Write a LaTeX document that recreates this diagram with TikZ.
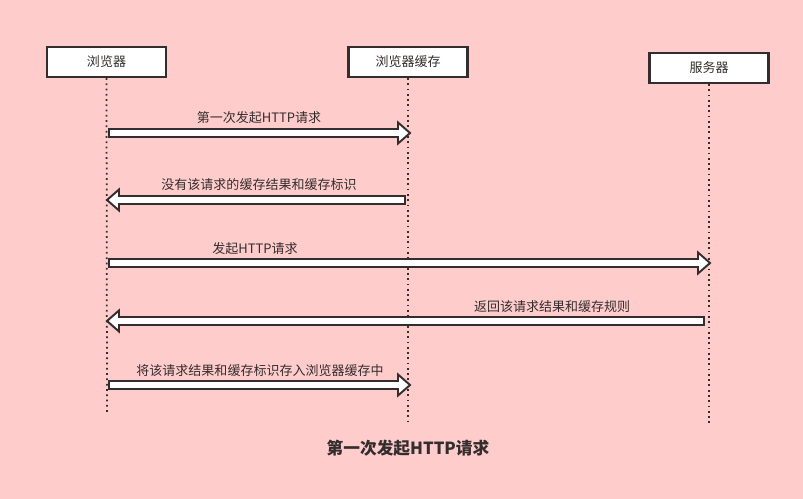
\documentclass[tikz,border=0pt]{standalone}
\usepackage{fontspec}
\setmainfont{Noto Sans CJK SC}
\usepackage{tikz}
\usetikzlibrary{positioning,calc}
\definecolor{bgpink}{RGB}{255,204,204}
\definecolor{ink}{RGB}{51,45,45}

% hollow fat arrow from #1 to #2, #3 = 1 (right) or -1 (left)
\newcommand{\fatarrow}[3]{%
\draw[msg] ($(#1)+(0,4)$) -- ($(#2)+({-12*#3},4)$) -- ($(#2)+({-12*#3},10.5)$) -- (#2)
  -- ($(#2)+({-12*#3},-10.5)$) -- ($(#2)+({-12*#3},-4)$) -- ($(#1)+(0,-4)$) -- cycle;}

\begin{document}
\begin{tikzpicture}[x=0.02cm, y=-0.02cm,
  actor/.style={draw=ink, line width=1.2pt, fill=white, minimum width=2.38cm, minimum height=0.6cm, inner sep=0pt, font=\fontsize{7.4}{9}\selectfont, text=ink},
  life/.style={draw=ink, line width=1pt, dotted},
  msg/.style={draw=ink, line width=1.1pt, fill=white, line join=miter},
  lbl/.style={font=\fontsize{7.4}{9}\selectfont, text=ink, inner sep=0pt}]
\fill[bgpink] (0,0) rectangle (803,499);
\useasboundingbox (0,0) rectangle (803,499);

% actors
\node[actor] (browser) at (106.5,62) {浏览器};
\node[actor] (cache) at (408,62) {浏览器缓存};
\node[actor] (server) at (709,68) {服务器};

% lifelines
\coordinate (browserEnd) at (107,415);
\coordinate (cacheEnd) at (408,425);
\coordinate (serverEnd) at (709,425);
\draw[life] (browser.south) -- (browserEnd);
\draw[life] (cache.south) -- (cacheEnd);
\draw[life] (server.south) -- (serverEnd);

% messages
\coordinate (m1s) at (109,133); \coordinate (m1e) at (410,133);
\coordinate (m2s) at (405,200); \coordinate (m2e) at (107,200);
\coordinate (m3s) at (109,263); \coordinate (m3e) at (710,263);
\coordinate (m4s) at (704,321); \coordinate (m4e) at (107,321);
\coordinate (m5s) at (109,385); \coordinate (m5e) at (410,385);
\fatarrow{m1s}{m1e}{1}
\fatarrow{m2s}{m2e}{-1}
\fatarrow{m3s}{m3e}{1}
\fatarrow{m4s}{m4e}{-1}
\fatarrow{m5s}{m5e}{1}

\node[lbl] (t1) at (259,118) {第一次发起HTTP请求};
\node[lbl] (t2) at (259,185) {没有该请求的缓存结果和缓存标识};
\node[lbl] (t3) at (255,249) {发起HTTP请求};
\node[lbl] (t4) at (552,307) {返回该请求结果和缓存规则};
\node[lbl] (t5) at (260,371) {将该请求结果和缓存标识存入浏览器缓存中};

% caption
\node[lbl, font=\fontsize{9.5}{12}\selectfont\bfseries] (title) at (408,448) {第一次发起HTTP请求};
\end{tikzpicture}
\end{document}
